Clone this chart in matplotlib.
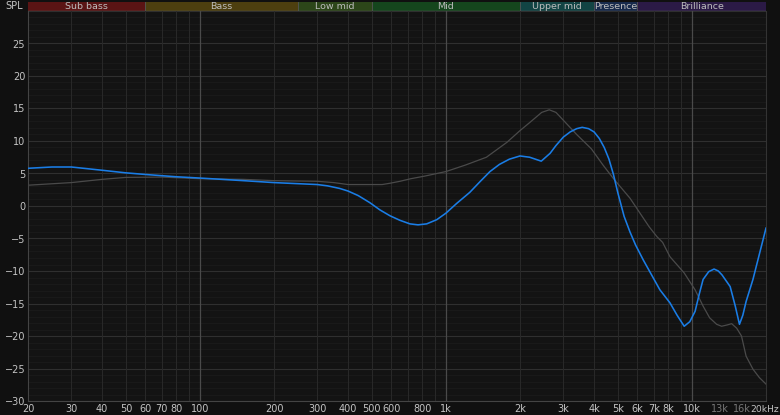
import numpy as np
import matplotlib.pyplot as plt
from matplotlib.ticker import FixedLocator, NullLocator

# measured response (blue)
freq_a = [20, 25, 30, 40, 50, 60, 80, 100, 150, 200, 300, 330, 370, 400, 440, 491, 539,
          592, 650, 714, 770, 835, 918, 1000, 1106, 1250, 1380, 1510, 1650, 1810,
          2000, 2190, 2440, 2650, 2800, 3000, 3200, 3400, 3580, 3800, 4000, 4200,
          4400, 4600, 4800, 5000, 5300, 5600, 5900, 6340, 6900, 7410, 8140, 8700,
          9300, 9800, 10300, 10700, 11100, 11700, 12300, 12800, 13250, 14300, 15000,
          15600, 16100, 16600, 17700, 18800, 20000]
spl_a = [5.8, 6.0, 6.0, 5.5, 5.1, 4.85, 4.5, 4.3, 3.9, 3.6, 3.3, 3.1, 2.7, 2.3, 1.6, 0.5, -0.6,
         -1.5, -2.2, -2.75, -2.9, -2.75, -2.1, -1.1, 0.4, 2.1, 3.8, 5.3, 6.4, 7.2,
         7.7, 7.5, 6.9, 8.1, 9.3, 10.6, 11.4, 11.9, 12.1, 11.9, 11.4, 10.4,
         9.0, 7.2, 4.8, 2.0, -1.6, -4.0, -6.0, -8.3, -10.8, -12.9, -14.9, -16.8,
         -18.5, -17.8, -16.2, -13.6, -11.3, -10.1, -9.7, -10.0, -10.6, -12.4, -15.4,
         -18.2, -16.8, -14.7, -11.3, -7.4, -3.4]

# target curve (gray)
freq_b = [20, 30, 40, 50, 70, 100, 150, 200, 300, 350, 400, 500, 550, 592, 650, 720,
          820, 1000, 1200, 1460, 1770, 2000, 2200, 2450, 2630, 2800, 3000, 3400, 3900,
          4350, 4800, 5600, 6100, 6700, 7200, 7600, 8140, 9300, 10300, 11100, 11800,
          12600, 13200, 13900, 14500, 15200, 15900, 16600, 17700, 18800, 20000]
spl_b = [3.2, 3.6, 4.1, 4.4, 4.45, 4.2, 4.1, 3.9, 3.8, 3.6, 3.3, 3.3, 3.3, 3.5, 3.8, 4.2,
         4.6, 5.3, 6.3, 7.5, 9.8, 11.6, 12.9, 14.4, 14.8, 14.4, 13.2, 11.0, 8.8,
         6.3, 4.2, 1.2, -0.9, -3.2, -4.7, -5.6, -7.8, -10.3, -12.9, -15.4, -17.2,
         -18.2, -18.5, -18.3, -18.1, -18.8, -20.0, -23.1, -25.1, -26.4, -27.4]

band_names = ["Sub bass", "Bass", "Low mid", "Mid", "Upper mid", "Presence", "Brilliance"]
band_edges = [20, 60, 250, 500, 2000, 4000, 6000, 20000]
band_colors = ["#5a1414", "#4d3f0f", "#2c4619", "#15461d", "#124444", "#172a4c", "#2b1a46"]

xtick_vals = [20, 30, 40, 50, 60, 70, 80, 100, 200, 300, 400, 500, 600, 800, 1000,
              2000, 3000, 4000, 5000, 6000, 7000, 8000, 10000, 13000, 16000, 20000]
xtick_labels = ["20", "30", "40", "50", "60", "70", "80", "100", "200", "300", "400",
                "500", "600", "800", "1k", "2k", "3k", "4k", "5k", "6k", "7k", "8k",
                "10k", "13k", "16k", "20kHz"]
ytick_vals = list(range(-30, 30, 5))

BG = "#101010"
TXT = "#c4c4c4"

fig = plt.figure(figsize=(7.8, 4.15), dpi=100, facecolor=BG)
ax = fig.add_axes([28 / 780, 14 / 415, 738 / 780, 390 / 415])
ax.set_facecolor("#131313")
ax.set_xscale("log")
ax.set_xlim(20, 20000)
ax.set_ylim(-30, 30)

# grid
for v in range(-30, 31):
    if v % 5:
        ax.axhline(v, color="#1b1b1b", lw=0.6, zorder=0)
    else:
        ax.axhline(v, color="#2f2f2f", lw=0.8, zorder=0)
for dec in [10, 100, 1000, 10000]:
    for m in range(1, 10):
        f = dec * m
        if f < 20 or f > 20000:
            continue
        if m == 1:
            ax.axvline(f, color="#4a4a4a", lw=0.9, zorder=0)
        else:
            ax.axvline(f, color="#292929", lw=0.7, zorder=0)

ax.plot(freq_b, spl_b, color="#4a4a4a", lw=0.9, zorder=2)
ax.plot(freq_a, spl_a, color="#1a7de6", lw=1.15, zorder=3)

ax.spines["top"].set_visible(False)
ax.spines["left"].set_color("#444444")
ax.spines["bottom"].set_color("#444444")
ax.spines["right"].set_color("#333333")

ax.xaxis.set_major_locator(FixedLocator(xtick_vals))
ax.xaxis.set_minor_locator(NullLocator())
ax.set_xticklabels(xtick_labels)
ax.set_yticks(ytick_vals)
ax.tick_params(length=0, labelsize=7, colors=TXT, pad=2)
xl = ax.get_xticklabels()
for lbl, v in zip(xl, xtick_vals):
    if v in (13000, 16000):
        lbl.set_color("#777777")
xl[-1].set_visible(False)
fig.text(779 / 780, 1 - 409 / 415, xtick_labels[-1], color=TXT, fontsize=6.6,
         ha="right", va="center")

# band header
bx = fig.add_axes([28 / 780, 404 / 415, 738 / 780, 9 / 415])
bx.set_xscale("log")
bx.set_xlim(20, 20000)
bx.set_ylim(0, 1)
for i, name in enumerate(band_names):
    lo, hi = band_edges[i], band_edges[i + 1]
    bx.axvspan(lo, hi, color=band_colors[i], lw=0)
    bx.text(np.sqrt(lo * hi), 0.45, name, color="#bdbdbd", fontsize=6.8,
            ha="center", va="center")
    if i > 0:
        bx.axvline(lo, color="#555555", lw=0.6)
bx.axhline(0.02, color="#5a5a5a", lw=1.0)
bx.set_axis_off()

fig.text(5 / 780, 1 - 6 / 415, "SPL", color=TXT, fontsize=7, va="center", ha="left")

fig.savefig("out.png", dpi=100, facecolor=BG)
